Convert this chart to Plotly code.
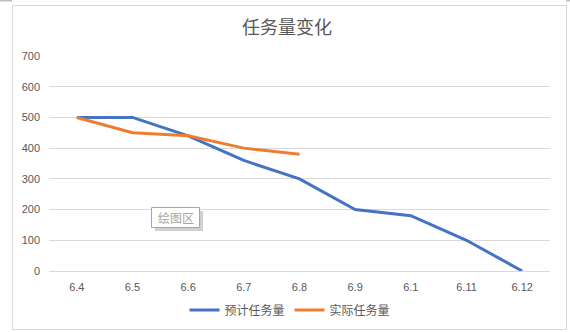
import plotly.graph_objects as go

categories = ["6.4", "6.5", "6.6", "6.7", "6.8", "6.9", "6.1", "6.11", "6.12"]
planned = [500, 500, 440, 360, 300, 200, 180, 100, 0]
actual = [500, 450, 440, 400, 380]
series_names = ["预计任务量", "实际任务量"]
y_ticks = [0, 100, 200, 300, 400, 500, 600, 700]
title_text = "任务量变化"
tooltip_text = "绘图区"

W, H = 570, 332
ML, MR, MT, MB = 49, 20, 56, 61
pw = W - ML - MR
ph = H - MT - MB

def px(x):
    return (x - ML) / pw

def py(y):
    return (H - MB - y) / ph

font = "Noto Sans CJK SC, Liberation Sans, sans-serif"
num_font = "Liberation Sans, Arial, sans-serif"
fig = go.Figure()
fig.add_trace(go.Scatter(x=list(range(len(categories))), y=planned, mode="lines",
                         name=series_names[0], line=dict(color="#4472C4", width=3)))
fig.add_trace(go.Scatter(x=list(range(len(actual))), y=actual, mode="lines",
                         name=series_names[1], line=dict(color="#ED7D31", width=3)))

fig.update_layout(
    width=W, height=H,
    margin=dict(l=ML, r=MR, t=MT, b=MB, autoexpand=False),
    paper_bgcolor="white", plot_bgcolor="white",
    font=dict(family=font, color="#595959", size=11),
    title=dict(text=title_text, x=287 / W, xanchor="center", y=1 - 28 / H, yanchor="middle",
               font=dict(size=18, color="#595959", family=font)),
    showlegend=True,
    legend=dict(orientation="h", xref="container", yref="container",
                x=290 / W, xanchor="center", y=1 - 310 / H, yanchor="middle",
                font=dict(size=12, color="#595959"), tracegroupgap=0),
    xaxis=dict(range=[-0.5, len(categories) - 0.5], tickmode="array",
               tickvals=list(range(len(categories))), ticktext=categories,
               showgrid=False, showline=True, linecolor="#D9D9D9", linewidth=1,
               ticks="", zeroline=False, ticklabelstandoff=6,
               tickfont=dict(size=11, color="#595959", family=num_font), fixedrange=True),
    yaxis=dict(range=[0, 700], tickvals=y_ticks, showgrid=True, gridcolor="#D9D9D9",
               gridwidth=1, zeroline=False, showline=False, ticks="", ticklabelstandoff=8,
               tickfont=dict(size=11, color="#595959", family=num_font)),
)

# chart border
fig.add_shape(type="rect", xref="paper", yref="paper",
              x0=px(12.5), x1=px(566.5), y0=py(329.5), y1=py(5.5),
              line=dict(color="#D9D9D9", width=1), fillcolor="rgba(0,0,0,0)", layer="below")
# selection handles at top
fig.add_shape(type="rect", xref="paper", yref="paper",
              x0=px(0), x1=px(12), y0=py(1.5), y1=py(0),
              line=dict(width=0), fillcolor="#BFBFBF")
fig.add_shape(type="rect", xref="paper", yref="paper",
              x0=px(566), x1=px(570), y0=py(1.5), y1=py(0),
              line=dict(width=0), fillcolor="#BFBFBF")
# tooltip shadow
fig.add_shape(type="rect", xref="paper", yref="paper",
              x0=px(155), x1=px(203), y0=py(231), y1=py(211),
              line=dict(width=0), fillcolor="#D0D0D0")
fig.add_shape(type="rect", xref="paper", yref="paper",
              x0=px(151.5), x1=px(199.5), y0=py(227.5), y1=py(207.5),
              line=dict(color="#A6A6A6", width=1), fillcolor="white")
fig.add_annotation(text=tooltip_text, xref="paper", yref="paper",
                   x=px(175.5), y=py(217.5), xanchor="center", yanchor="middle",
                   showarrow=False, font=dict(size=12, color="#A6A6A6"))

fig.write_html("out.html")
